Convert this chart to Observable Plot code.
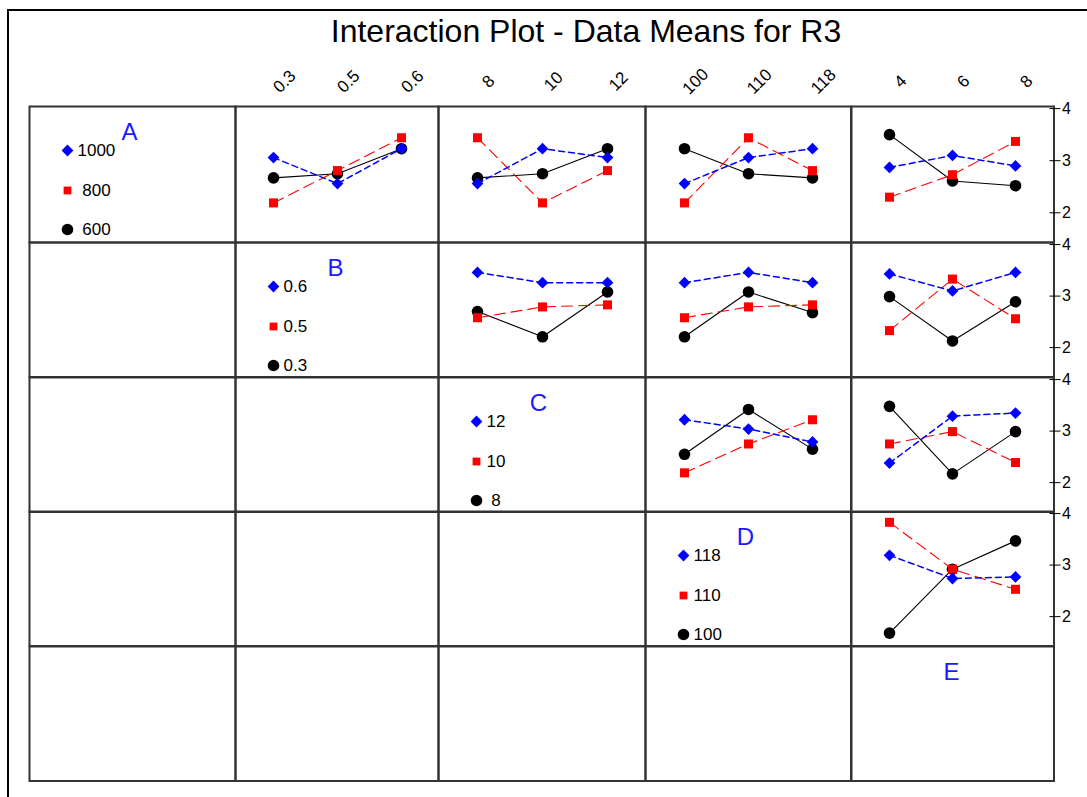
<!DOCTYPE html>
<html>
<head>
<meta charset="utf-8">
<script src="https://cdn.jsdelivr.net/npm/d3@7"></script>
<script src="https://cdn.jsdelivr.net/npm/@observablehq/plot@0.6"></script>
<style>
html, body { margin: 0; padding: 0; background: #fff; }
#page { position: relative; width: 1087px; height: 797px; overflow: hidden; font-family: "Liberation Sans", Arial, sans-serif; background: #fff; }
#frame { position: absolute; left: 7px; top: 9px; width: 2000px; height: 2000px; border-top: 2.5px solid #000; border-left: 2.5px solid #000; }
#title { position: absolute; left: 0; width: 1172px; top: 15px; text-align: center; font-size: 32px; line-height: 32px; color: #000; white-space: nowrap; }
</style>
</head>
<body>
<div id="page">
  <div id="frame"></div>
  <div id="title">Interaction Plot - Data Means for R3</div>
</div>
<script>
// ---- data ----
const factors = ["A", "B", "C", "D", "E"];
const levelsA = ["600", "800", "1000"];
const levelsB = ["0.3", "0.5", "0.6"];
const levelsC = ["8", "10", "12"];
const levelsD = ["100", "110", "118"];
const levelsE = ["4", "6", "8"];
const yTicks = [2, 3, 4];

// means[trace level (low, mid, high)][x level]
const meansAB = [[2.67, 2.75, 3.23], [2.19, 2.81, 3.44], [3.06, 2.56, 3.23]];
const meansAC = [[2.67, 2.75, 3.23], [3.44, 2.19, 2.81], [2.56, 3.23, 3.06]];
const meansAD = [[3.23, 2.75, 2.67], [2.19, 3.44, 2.81], [2.56, 3.06, 3.23]];
const meansAE = [[3.50, 2.61, 2.52], [2.30, 2.73, 3.37], [2.87, 3.10, 2.90]];
const meansBC = [[2.70, 2.21, 3.08], [2.58, 2.79, 2.83], [3.46, 3.26, 3.26]];
const meansBD = [[2.21, 3.08, 2.68], [2.58, 2.79, 2.83], [3.26, 3.46, 3.26]];
const meansBE = [[2.99, 2.13, 2.89], [2.33, 3.33, 2.56], [3.43, 3.10, 3.46]];
const meansCD = [[2.55, 3.42, 2.65], [2.19, 2.75, 3.22], [3.22, 3.04, 2.79]];
const meansCE = [[3.48, 2.17, 2.99], [2.75, 2.99, 2.39], [2.38, 3.29, 3.35]];
const meansDE = [[1.68, 2.92, 3.47], [3.83, 2.92, 2.53], [3.19, 2.74, 2.77]];

// ---- lookup tables built from the arrays ----
const levels = {A: levelsA, B: levelsB, C: levelsC, D: levelsD, E: levelsE};
const means = {
  AB: meansAB, AC: meansAC, AD: meansAD, AE: meansAE,
  BC: meansBC, BD: meansBD, BE: meansBE,
  CD: meansCD, CE: meansCE, DE: meansDE
};

// ---- layout & style ----
const colX = [29, 235, 438, 645, 850.5, 1053];
const rowY = [106, 242, 376.5, 511, 645.5, 780];
const yDomain = [1.43, 4.04];
const font = "'Liberation Sans', Arial, sans-serif";
const series = [
  {fill: "#000000", symbol: "circle",   r: 5.8, legendR: 5.8, dash: null,   width: 1.1},
  {fill: "#ff0000", symbol: "square",   r: 5.1, legendR: 4.4, dash: "11,6", width: 1.1},
  {fill: "#0000ff", symbol: "diamond2", r: 5.3, legendR: 5.3, dash: "6,4",  width: 1.5}
];
const legendDy = [123, 84, 44]; // low, mid, high level

const page = document.getElementById("page");

for (let r = 0; r < 5; r++) {
  for (let c = 0; c < 5; c++) {
    const rf = factors[r], cf = factors[c];
    const w = colX[c + 1] - colX[c];
    const h = rowY[r + 1] - rowY[r];
    const marks = [Plot.frame({stroke: "#333", strokeWidth: 2})];
    const hasAxis = (c === 4 && r < 4);

    if (c > r) {
      const m = means[rf + cf];
      series.forEach((s, i) => {
        const data = levels[cf].map((lv, j) => ({x: lv, y: m[i][j]}));
        marks.push(Plot.line(data, {
          x: "x", y: "y", stroke: s.fill, strokeWidth: s.width,
          strokeDasharray: s.dash
        }));
        marks.push(Plot.dot(data, {
          x: "x", y: "y", symbol: s.symbol, r: s.r, fill: s.fill, stroke: "none"
        }));
      });
    }

    if (r === 0 && c > 0) {
      marks.push(Plot.text(levels[cf], {
        x: d => d, text: d => d, frameAnchor: "top", dy: -25, dx: 11,
        rotate: -45, fontSize: 17, textAnchor: "middle", lineAnchor: "middle",
        fill: "#000"
      }));
    }

    if (hasAxis) {
      marks.push(Plot.axisY({
        anchor: "right", ticks: yTicks, tickSize: 11, dx: -5,
        tickFormat: () => "", label: null, stroke: "#000"
      }));
      marks.push(Plot.axisY({
        anchor: "right", ticks: yTicks, tickSize: 0, tickPadding: 8,
        tickFormat: d3.format("d"), fontSize: 16, label: null, fill: "#000"
      }));
    }

    if (c === r) {
      marks.push(Plot.text([rf], {
        text: d => d, frameAnchor: "top-left", dx: 100, dy: 26,
        fill: "#1a1aff", fontSize: 24, textAnchor: "middle", lineAnchor: "middle"
      }));
      if (r < 4) {
        const lv = levels[rf];
        const maxLen = d3.max(lv, d => d.length);
        series.forEach((s, i) => {
          marks.push(Plot.dot([lv[i]], {
            frameAnchor: "top-left", dx: 38, dy: legendDy[i],
            symbol: s.symbol, r: s.legendR, fill: s.fill, stroke: "none"
          }));
          marks.push(Plot.text([lv[i]], {
            text: d => d.padStart(maxLen, "\u00A0"),
            frameAnchor: "top-left", dx: 48, dy: legendDy[i],
            fontSize: 17, textAnchor: "start", lineAnchor: "middle", fill: "#000"
          }));
        });
      }
    }

    const svg = Plot.plot({
      width: w, height: h,
      marginTop: 0, marginRight: 0, marginBottom: 0, marginLeft: 0,
      x: {type: "point", domain: levels[cf], padding: 0.585, axis: null},
      y: hasAxis ? {domain: yDomain} : {domain: yDomain, axis: null},
      style: {overflow: "visible", background: "transparent", fontFamily: font,
              position: "absolute", left: colX[c] + "px", top: rowY[r] + "px",
              maxWidth: "none"},
      marks
    });
    page.appendChild(svg);
  }
}
</script>
</body>
</html>
